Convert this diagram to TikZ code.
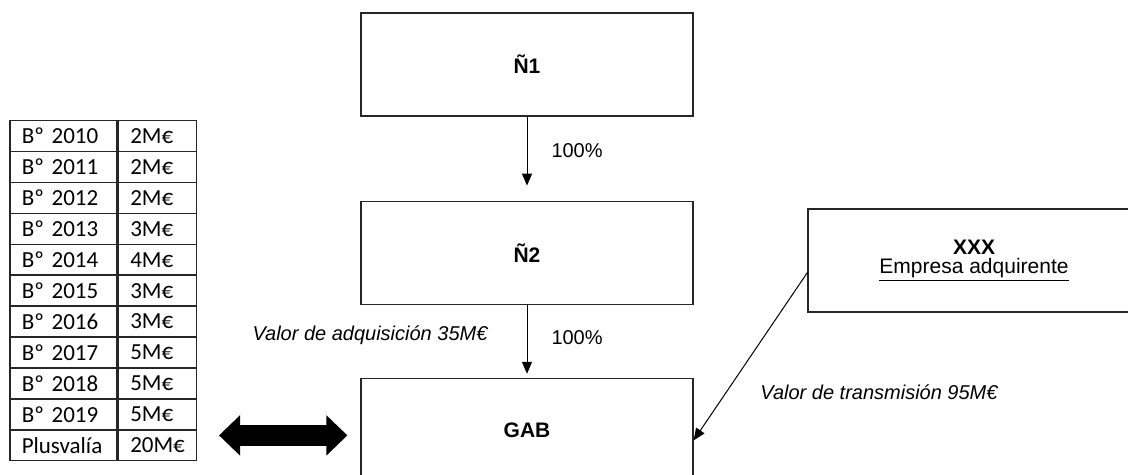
\documentclass[tikz,border=0pt]{standalone}
\usepackage{fontspec}
\setmainfont{Liberation Sans}
\newfontfamily\tabfont{Carlito}
\usetikzlibrary{positioning}
\usetikzlibrary{arrows.meta}
\tikzset{
	>={Triangle[length=6pt,width=5pt]},
	entity/.style={
		rectangle,
		draw=black!85, line width=0.6pt,
		minimum width=166pt,
		minimum height=51.5pt,
		align=center,
		font=\fontsize{10.5}{9.5}\selectfont},
	cell/.style={
		rectangle,
		draw=black!85, line width=0.75pt,
		inner xsep=6pt, inner ysep=0pt,
		minimum height=15.45pt,
		align=left,
		font=\tabfont\fontsize{11.5}{13}\selectfont},
	cella/.style={cell, text width=41.5pt, anchor=north west},
	cellb/.style={cell, text width=27pt},
	link/.style={draw, line width=0.5pt, ->},
	bigarrow/.style={line width=10.5pt,
		{Triangle[length=10.5pt,width=19.5pt]}-{Triangle[length=10.5pt,width=19.5pt]}},
	lbl/.style={inner sep=0pt, font=\fontsize{10}{12}\selectfont},
}

\begin{document}
\begin{tikzpicture}[x=0.5pt, y=-0.5pt, node distance=42pt]
		\clip (0,0) rectangle (1128,475);
		% companies
		\node[entity] (n1) at (527,64.5) {\textbf{Ñ1}};
		\node[entity, below=of n1] (n2) {\textbf{Ñ2}};
		\node[entity, below=36.5pt of n2] (gab) {\textbf{GAB}};
		\node[entity] (xxx) at (974,260.5) {\textbf{XXX}\\\underline{Empresa adquirente}};
		% profits table
		\foreach \lab/\val [count=\i] in {Bº 2010/2M€, Bº 2011/2M€, Bº 2012/2M€,
				Bº 2013/3M€, Bº 2014/4M€, Bº 2015/3M€, Bº 2016/3M€, Bº 2017/5M€,
				Bº 2018/5M€, Bº 2019/5M€, Plusvalía/20M€} {
			\node[cella] (a\i) at (9,{120+30.9*(\i-1)}) {\lab};
			\node[cellb, right=0pt of a\i] (b\i) {\val};
		}
		% connectors
		\draw[link, shorten >=7.5pt] (n1) -- (n2)
			node[lbl, pos=0.4, right=12pt] (p1) {100\%};
		\draw[link, shorten >=2pt] (n2) -- (gab)
			node[lbl, pos=0.45, right=12pt] (p2) {100\%}
			node[lbl, pos=0.42, left=19.5pt] (adq) {\itshape Valor de adquisición 35M€};
		\draw[link] ([yshift=-6pt]xxx.west) -- ([yshift=-5.25pt]gab.east);
		\node[lbl, anchor=west] (trans) at (760,392) {\itshape Valor de transmisión 95M€};
		\draw[bigarrow, shorten <=11pt, shorten >=6.5pt]
			([yshift=-2.75pt]b6.east |- gab.west) -- ([yshift=-2.75pt]gab.west);
		\end{tikzpicture}
\end{document}
